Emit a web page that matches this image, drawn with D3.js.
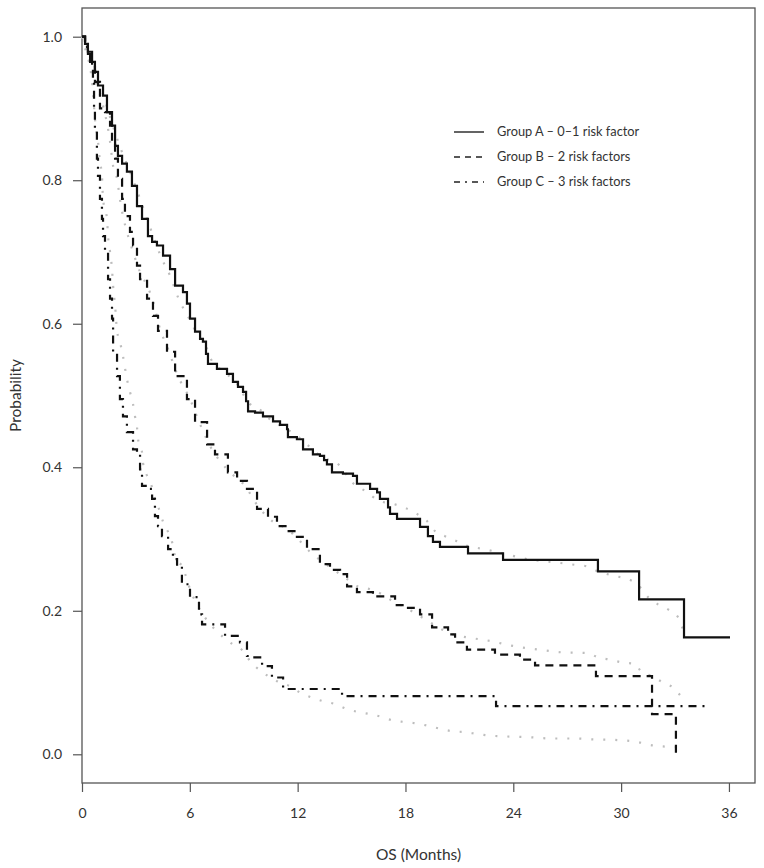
<!DOCTYPE html>
<html>
<head>
<meta charset="utf-8">
<script src="https://cdn.jsdelivr.net/npm/d3@7/dist/d3.min.js"></script>
<style>
  html, body { margin: 0; padding: 0; background: #fff; }
  svg { display: block; }
  text { font-family: Lato, "Open Sans", sans-serif; fill: #333; }
</style>
</head>
<body>
<svg id="chart" width="764" height="868"></svg>
<script>
// ---- Data (months, survival probability) ----
const xTicks = [0, 6, 12, 18, 24, 30, 36];
const yTicks = [0.0, 0.2, 0.4, 0.6, 0.8, 1.0];
const legendLabels = ["Group A \u2013 0\u20131 risk factor", "Group B \u2013 2 risk factors", "Group C \u2013 3 risk factors"];

// Kaplan-Meier steps: time of step, survival after step
const groupA_time = [0, 0.17,0.33,0.56,0.72,0.89,1.17,1.39,1.67,1.84,2.0,2.23,2.5,2.78,3.06,3.34,3.67,3.9,4.17,4.51,4.9,5.18,5.62,5.84,6.01,6.29,6.57,6.73,6.9,7.01,7.51,8.07,8.4,8.68,8.96,9.13,9.24,9.63,10.07,10.63,11.02,11.41,11.46,11.96,12.3,12.85,13.24,13.47,13.63,13.91,14.52,15.08,15.3,16.03,16.42,16.58,17.03,17.14,17.53,18.81,19.25,19.53,19.92,21.48,23.43,28.71,31.0,33.5,36.06];
const groupA_surv = [1, 0.990,0.979,0.965,0.951,0.932,0.918,0.895,0.876,0.848,0.834,0.823,0.812,0.792,0.764,0.746,0.722,0.714,0.709,0.695,0.676,0.653,0.644,0.628,0.607,0.589,0.579,0.575,0.558,0.544,0.537,0.530,0.519,0.512,0.505,0.492,0.478,0.476,0.471,0.464,0.459,0.453,0.442,0.439,0.425,0.418,0.416,0.410,0.404,0.393,0.391,0.388,0.377,0.370,0.365,0.356,0.344,0.335,0.328,0.317,0.304,0.296,0.289,0.280,0.271,0.255,0.216,0.163,0.163];

const groupB_time = [0, 0.17,0.33,0.45,0.72,1.0,1.28,1.56,1.67,1.84,2.0,2.23,2.39,2.67,2.84,3.06,3.23,3.62,3.95,4.23,4.73,5.18,5.84,6.29,6.96,7.4,8.12,8.63,9.18,9.74,10.35,10.85,11.41,11.96,12.52,13.24,13.8,14.36,14.75,15.3,16.19,17.42,18.14,18.81,19.48,20.37,20.76,21.42,22.98,24.37,25.21,28.6,31.72,33.05];
const groupB_surv = [1, 0.986,0.972,0.965,0.937,0.900,0.895,0.876,0.854,0.830,0.802,0.774,0.750,0.728,0.709,0.681,0.662,0.635,0.611,0.590,0.561,0.527,0.495,0.463,0.432,0.418,0.393,0.381,0.370,0.342,0.331,0.318,0.311,0.303,0.286,0.265,0.257,0.251,0.234,0.226,0.220,0.208,0.204,0.195,0.177,0.167,0.156,0.146,0.139,0.132,0.124,0.109,0.056,0.0];

const groupC_time = [0, 0.17,0.33,0.45,0.56,0.61,0.67,0.72,0.83,0.89,1.0,1.11,1.17,1.28,1.45,1.56,1.67,1.73,1.95,2.11,2.28,2.5,2.84,3.06,3.23,3.34,3.62,3.9,4.06,4.23,4.45,4.79,5.06,5.29,5.56,6.01,6.51,6.68,7.96,8.79,9.18,9.46,10.02,10.57,11.19,14.47,23.04,34.67];
const groupC_surv = [1, 0.986,0.976,0.965,0.955,0.937,0.900,0.872,0.830,0.806,0.774,0.746,0.722,0.700,0.662,0.635,0.607,0.561,0.527,0.495,0.471,0.449,0.425,0.421,0.397,0.374,0.370,0.356,0.332,0.318,0.304,0.286,0.272,0.262,0.237,0.219,0.195,0.181,0.165,0.156,0.137,0.135,0.123,0.107,0.091,0.081,0.067,0.067];

// Fitted (model) curves, grey dotted
const fitA_time = [0,0.45,1.0,1.56,2.11,2.67,3.23,3.78,4.45,4.9,5.34,6.01,6.46,6.96,7.23,7.85,8.63,9.24,10.07,10.57,11.19,11.96,12.69,13.24,14.36,15.03,15.75,16.58,17.31,18.64,19.2,19.64,20.2,20.87,21.48,22.15,23.43,24.76,26.15,27.43,28.1,28.71,29.38,30.66,31.05,31.5,32.05,32.61,33.17,33.44];
const fitA_surv = [1.0,0.974,0.934,0.888,0.847,0.812,0.774,0.735,0.690,0.667,0.637,0.605,0.583,0.565,0.548,0.534,0.516,0.491,0.477,0.464,0.456,0.444,0.428,0.416,0.402,0.379,0.367,0.353,0.349,0.335,0.325,0.311,0.304,0.297,0.290,0.287,0.280,0.272,0.268,0.264,0.262,0.255,0.250,0.241,0.233,0.219,0.209,0.202,0.191,0.174];

const fitB_time = [0,0.45,0.83,1.17,1.56,1.73,1.95,2.11,2.28,2.5,2.84,3.23,3.62,3.95,4.34,4.79,5.29,6.01,6.57,7.12,8.07,9.07,9.79,10.63,11.41,12.02,12.69,13.41,13.97,14.75,15.36,16.03,16.69,17.31,17.97,18.64,19.37,20.03,20.65,21.42,22.7,23.98,25.38,26.77,28.16,28.71,29.38,30.05,30.77,31.16,31.72,32.33,32.89,33.39];
const fitB_surv = [1.0,0.960,0.932,0.904,0.854,0.820,0.802,0.774,0.750,0.728,0.700,0.672,0.653,0.632,0.593,0.565,0.530,0.495,0.460,0.430,0.397,0.374,0.346,0.324,0.314,0.300,0.282,0.268,0.258,0.244,0.234,0.230,0.223,0.213,0.205,0.195,0.184,0.174,0.167,0.163,0.158,0.151,0.146,0.142,0.141,0.135,0.132,0.128,0.126,0.114,0.109,0.100,0.093,0.079];

const fitC_time = [0,0.33,0.61,0.72,0.89,1.0,1.11,1.17,1.39,1.45,1.56,1.67,1.73,1.84,1.95,2.11,2.28,2.5,2.67,2.84,2.95,3.06,3.12,3.34,3.39,3.62,3.9,4.06,4.34,4.51,4.79,5.01,5.18,5.56,5.84,6.01,6.4,7.01,7.4,8.4,8.96,9.35,10.07,11.02,11.57,12.13,12.8,13.41,14.08,14.75,15.36,16.03,16.69,17.31,17.97,18.64,19.37,20.03,20.65,21.31,22.04,22.7,23.43,24.76,26.15,27.55,28.27,29.66,30.94,31.61,32.33,33.0];
const fitC_surv = [1.0,0.976,0.923,0.886,0.854,0.826,0.806,0.774,0.746,0.722,0.700,0.676,0.653,0.625,0.590,0.575,0.555,0.523,0.505,0.488,0.471,0.456,0.439,0.421,0.407,0.388,0.372,0.356,0.338,0.324,0.310,0.296,0.276,0.262,0.244,0.230,0.209,0.185,0.174,0.153,0.144,0.130,0.114,0.100,0.095,0.086,0.079,0.074,0.070,0.063,0.059,0.056,0.052,0.047,0.045,0.043,0.039,0.035,0.032,0.031,0.028,0.026,0.025,0.024,0.022,0.022,0.021,0.020,0.017,0.013,0.011,0.010];

// ---- Layout ----
const svg = d3.select("#chart");
const plot = { left: 82, right: 755, top: 8, bottom: 783 };

const x = d3.scaleLinear().domain([0, 37.45]).range([plot.left, plot.right]);
const y = d3.scaleLinear().domain([-0.04, 1.04]).range([plot.bottom, plot.top]);

const zip = (t, s) => t.map((v, i) => [v, s[i]]);

// Axes
const yAxis = d3.axisLeft(y).tickValues(yTicks).tickFormat(d3.format(".1f")).tickSize(9).tickPadding(11);
const xAxis = d3.axisBottom(x).tickValues(xTicks).tickFormat(d3.format("d")).tickSize(9).tickPadding(16);

const gy = svg.append("g").attr("transform", `translate(${plot.left},0)`).call(yAxis);
const gx = svg.append("g").attr("transform", `translate(0,${plot.bottom})`).call(xAxis);
[gy, gx].forEach(g => {
  g.select(".domain").remove();
  g.selectAll(".tick line").attr("stroke", "#555").attr("stroke-width", 1.2);
  g.selectAll(".tick text").style("font-size", "14px").attr("fill", "#333");
});

// Box
svg.append("rect")
  .attr("x", plot.left).attr("y", plot.top)
  .attr("width", plot.right - plot.left).attr("height", plot.bottom - plot.top)
  .attr("fill", "none").attr("stroke", "#555").attr("stroke-width", 1.3);

// Titles
svg.append("text")
  .attr("x", (plot.left + plot.right) / 2).attr("y", 860)
  .attr("text-anchor", "middle").style("font-size", "15.5px")
  .text("OS (Months)");
svg.append("text")
  .attr("transform", `translate(21,${(plot.top + plot.bottom) / 2}) rotate(-90)`)
  .attr("text-anchor", "middle").style("font-size", "15.5px")
  .text("Probability");

// Fitted grey dotted curves
const smooth = d3.line().x(d => x(d[0])).y(d => y(d[1])).curve(d3.curveMonotoneX);
[[fitA_time, fitA_surv], [fitB_time, fitB_surv], [fitC_time, fitC_surv]].forEach(([t, s]) => {
  svg.append("path")
    .attr("d", smooth(zip(t, s)))
    .attr("fill", "none")
    .attr("stroke", "#bdbdbd")
    .attr("stroke-width", 2.2)
    .attr("stroke-dasharray", "2,10");
});

// KM step curves
const step = d3.line().x(d => x(d[0])).y(d => y(d[1])).curve(d3.curveStepAfter);
const styles = [
  { dash: null },
  { dash: "8,6" },
  { dash: "8,6,2,6" }
];
[[groupA_time, groupA_surv], [groupB_time, groupB_surv], [groupC_time, groupC_surv]].forEach(([t, s], i) => {
  svg.append("path")
    .attr("d", step(zip(t, s)))
    .attr("fill", "none")
    .attr("stroke", "#111")
    .attr("stroke-width", 2.2)
    .attr("stroke-dasharray", styles[i].dash);
});

// Legend
const legY = [132, 157, 182];
const legendDash = [null, "6,5", "6,5,2,5"];
legendLabels.forEach((lab, i) => {
  svg.append("line")
    .attr("x1", 454).attr("x2", 484)
    .attr("y1", legY[i]).attr("y2", legY[i])
    .attr("stroke", "#222").attr("stroke-width", 1.4)
    .attr("stroke-dasharray", legendDash[i]);
  svg.append("text")
    .attr("x", 497).attr("y", legY[i]).attr("dy", "0.35em")
    .style("font-size", "12.8px")
    .text(lab);
});
</script>
</body>
</html>
